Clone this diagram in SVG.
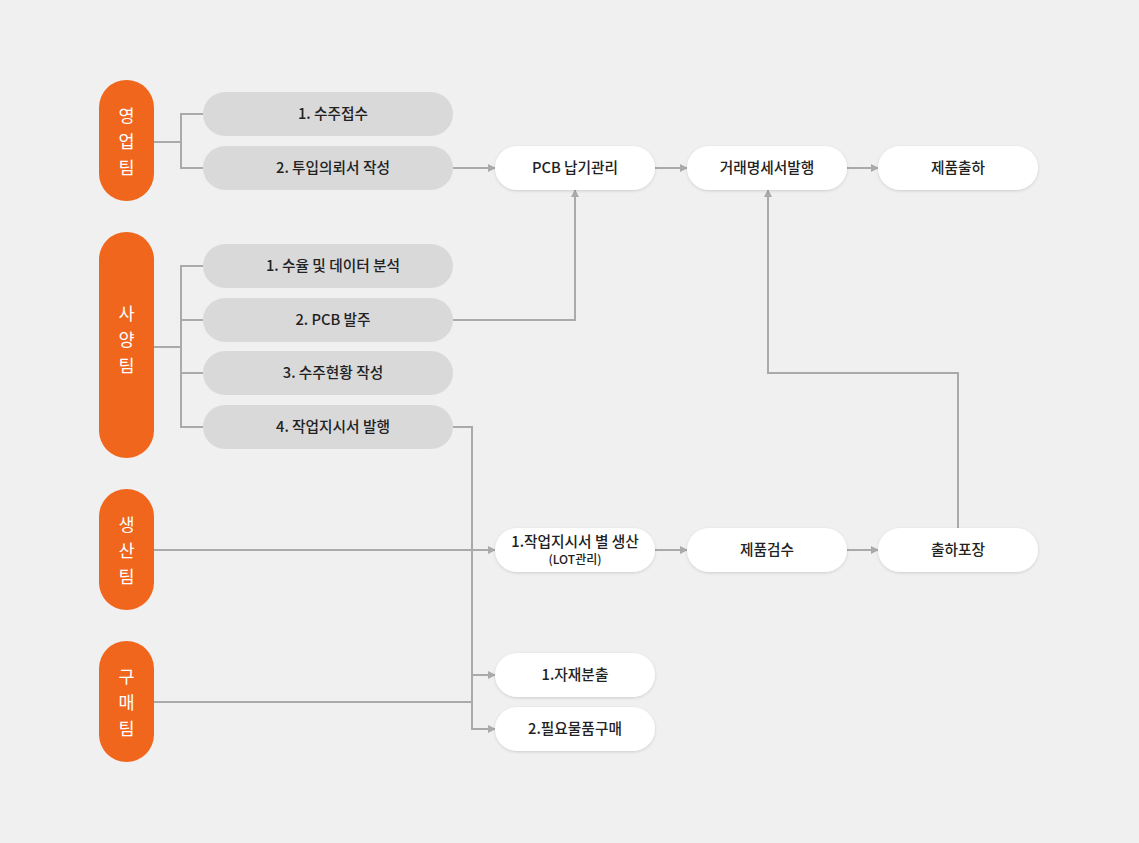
<svg xmlns="http://www.w3.org/2000/svg" width="1139" height="843" viewBox="0 0 1139 843">
<style>
.team{fill:#f0661c}
.tt{fill:#fff;font-family:"Noto Sans CJK KR","Noto Sans",sans-serif;font-size:17.5px;text-anchor:middle}
.g{fill:#d9d9d9}
.w{fill:#fff;filter:url(#sh)}
.t{fill:#222;font-family:"Noto Sans CJK KR","Noto Sans",sans-serif;font-size:14.7px;font-weight:500;text-anchor:middle}
.ts{fill:#222;font-family:"Noto Sans CJK KR","Noto Sans",sans-serif;font-size:12px;font-weight:500;text-anchor:middle}
.c{fill:none;stroke:#aaa;stroke-width:2}
.ca{fill:none;stroke:#aaa;stroke-width:2;marker-end:url(#ah)}
</style>
<defs>
<marker id="ah" viewBox="0 0 8 8" refX="7" refY="4" markerWidth="8" markerHeight="8" markerUnits="userSpaceOnUse" orient="auto">
<path d="M0,0 L8,4 L0,8 Z" fill="#aaa"/>
</marker>
<filter id="sh" x="-10%" y="-30%" width="120%" height="170%">
<feDropShadow dx="0" dy="1" stdDeviation="1.5" flood-color="#000" flood-opacity="0.15"/>
</filter>
</defs>
<rect width="1139" height="843" fill="#f0f0f0"/>

<g id="connectors">
<polyline class="c" points="154,142 181,142"/>
<polyline class="c" points="203,114 181,114 181,168 203,168"/>
<polyline class="c" points="154,347 181,347"/>
<polyline class="c" points="203,266 181,266 181,427 203,427"/>
<line class="c" x1="181" y1="320" x2="203" y2="320"/>
<line class="c" x1="181" y1="373" x2="203" y2="373"/>
<line class="ca" x1="453" y1="168" x2="495" y2="168"/>
<polyline class="ca" points="453,320 575,320 575,190"/>
<line class="ca" x1="655" y1="168" x2="687" y2="168"/>
<line class="ca" x1="847" y1="168" x2="878" y2="168"/>
<polyline class="ca" points="958,528 958,373 768,373 768,190"/>
<polyline class="ca" points="453,427 472,427 472,729 495,729"/>
<line class="ca" x1="472" y1="675" x2="495" y2="675"/>
<line class="ca" x1="154" y1="550" x2="495" y2="550"/>
<line class="c" x1="154" y1="702" x2="472" y2="702"/>
<line class="ca" x1="655" y1="550" x2="687" y2="550"/>
<line class="ca" x1="847" y1="550" x2="878" y2="550"/>
</g>

<g id="team-sales">
<rect class="team" x="99" y="80" width="55" height="121" rx="27.5"/>
<text class="tt" x="126.5" y="122">영</text>
<text class="tt" x="126.5" y="148">업</text>
<text class="tt" x="126.5" y="174">팀</text>
</g>
<g id="team-spec">
<rect class="team" x="99" y="232" width="55" height="226" rx="27.5"/>
<text class="tt" x="126.5" y="320">사</text>
<text class="tt" x="126.5" y="346">양</text>
<text class="tt" x="126.5" y="372">팀</text>
</g>
<g id="team-prod">
<rect class="team" x="99" y="489" width="55" height="121" rx="27.5"/>
<text class="tt" x="126.5" y="531">생</text>
<text class="tt" x="126.5" y="557">산</text>
<text class="tt" x="126.5" y="583">팀</text>
</g>
<g id="team-buy">
<rect class="team" x="99" y="641" width="55" height="121" rx="27.5"/>
<text class="tt" x="126.5" y="683">구</text>
<text class="tt" x="126.5" y="709">매</text>
<text class="tt" x="126.5" y="735">팀</text>
</g>

<g id="s1">
<rect class="g" x="203" y="92" width="250" height="44" rx="22"/>
<text class="t" x="333" y="119">1. 수주접수</text>
</g>
<g id="s2">
<rect class="g" x="203" y="146" width="250" height="44" rx="22"/>
<text class="t" x="333" y="173">2. 투입의뢰서 작성</text>
</g>
<g id="p1">
<rect class="g" x="203" y="244" width="250" height="44" rx="22"/>
<text class="t" x="333" y="271">1. 수율 및 데이터 분석</text>
</g>
<g id="p2">
<rect class="g" x="203" y="298" width="250" height="44" rx="22"/>
<text class="t" x="333" y="325">2. PCB 발주</text>
</g>
<g id="p3">
<rect class="g" x="203" y="351" width="250" height="44" rx="22"/>
<text class="t" x="333" y="378">3. 수주현황 작성</text>
</g>
<g id="p4">
<rect class="g" x="203" y="405" width="250" height="44" rx="22"/>
<text class="t" x="333" y="432">4. 작업지시서 발행</text>
</g>

<g id="pcb">
<rect class="w" x="495" y="146" width="160" height="44" rx="22"/>
<text class="t" x="575" y="173">PCB 납기관리</text>
</g>
<g id="invoice">
<rect class="w" x="687" y="146" width="160" height="44" rx="22"/>
<text class="t" x="767" y="173">거래명세서발행</text>
</g>
<g id="ship">
<rect class="w" x="878" y="146" width="160" height="44" rx="22"/>
<text class="t" x="958" y="173">제품출하</text>
</g>
<g id="produce">
<rect class="w" x="495" y="528" width="160" height="44" rx="22"/>
<text class="t" x="575" y="547">1.작업지시서 별 생산</text>
<text class="ts" x="575" y="564">(LOT관리)</text>
</g>
<g id="inspect">
<rect class="w" x="687" y="528" width="160" height="44" rx="22"/>
<text class="t" x="767" y="555">제품검수</text>
</g>
<g id="pack">
<rect class="w" x="878" y="528" width="160" height="44" rx="22"/>
<text class="t" x="958" y="555">출하포장</text>
</g>
<g id="release">
<rect class="w" x="495" y="653" width="160" height="44" rx="22"/>
<text class="t" x="575" y="680">1.자재분출</text>
</g>
<g id="purchase">
<rect class="w" x="495" y="707" width="160" height="44" rx="22"/>
<text class="t" x="575" y="734">2.필요물품구매</text>
</g>
</svg>
